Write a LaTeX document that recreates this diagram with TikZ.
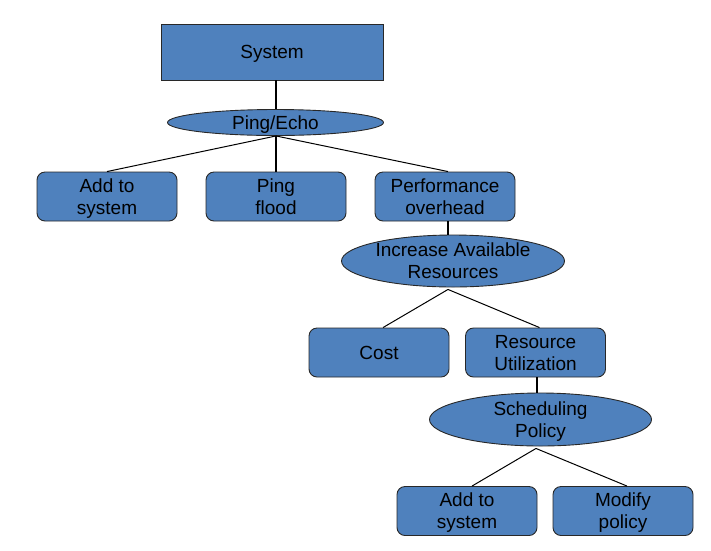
\documentclass[tikz,border=0pt]{standalone}
\usepackage{fontspec}
\setmainfont{Liberation Sans}
\usetikzlibrary{shapes.geometric}
\definecolor{boxblue}{RGB}{79,129,189}
\definecolor{edgegray}{RGB}{40,40,40}
\tikzset{
  base/.style={fill=boxblue, draw=edgegray, line width=0.9pt, align=center, inner sep=0pt,
    font=\fontsize{19}{22}\selectfont, text=black, text depth=0pt},
  sqbox/.style={base, rectangle, minimum width=222pt, minimum height=56pt},
  rbox/.style={base, rectangle, rounded corners=8pt, minimum width=140pt, minimum height=49pt},
  oval/.style={base, ellipse},
  thick link/.style={line width=2pt, black},
  thin link/.style={line width=1pt, black},
}
\begin{document}
\begin{tikzpicture}[x=1pt, y=-1pt]
\useasboundingbox (0,0) rectangle (711,550);
\node[sqbox] (sys) at (272,52) {System};
\node[oval, minimum width=216pt, minimum height=26pt] (ping) at (275.5,122.5) {Ping/Echo};
\node[rbox] (add1) at (107,196.5) {Add to\\system};
\node[rbox] (flood) at (276,196.5) {Ping\\flood};
\node[rbox] (perf) at (445,196.5) {Performance\\overhead};
\node[oval, minimum width=223pt, minimum height=52pt] (inc) at (453,261) {Increase Available\\Resources};
\node[rbox] (cost) at (379,352.5) {Cost};
\node[rbox] (ru) at (535.5,352.5) {Resource\\Utilization};
\node[oval, minimum width=222pt, minimum height=53pt] (sched) at (540.5,419.5) {Scheduling\\Policy};
\node[rbox] (add2) at (467,511) {Add to\\system};
\node[rbox] (mod) at (623,511) {Modify\\policy};

\coordinate (pingtop) at (sys.south -| flood.north);
\draw[thick link] (pingtop) -- (ping.north -| flood.north);
\draw[thick link] (ping.south -| flood.north) -- (flood.north);
\draw[thin link] (ping.south -| flood.north) -- (add1.north);
\draw[thin link] (ping.south -| flood.north) -- ([xshift=3pt]perf.north);
\draw[thick link] ([xshift=3pt]perf.south) -- ([xshift=3pt]perf.south |- inc.north);
\draw[thin link] ([xshift=-5pt,yshift=-2pt]inc.south) -- ([xshift=4pt]cost.north);
\draw[thin link] ([xshift=-5pt,yshift=-2pt]inc.south) -- ([xshift=4pt]ru.north);
\draw[thick link] ([xshift=1.5pt]ru.south) -- ([xshift=1.5pt]ru.south |- sched.north);
\draw[thin link] ([xshift=-4.5pt,yshift=-2pt]sched.south) -- ([xshift=5pt]add2.north);
\draw[thin link] ([xshift=-4.5pt,yshift=-2pt]sched.south) -- ([xshift=4pt]mod.north);
\end{tikzpicture}
\end{document}
